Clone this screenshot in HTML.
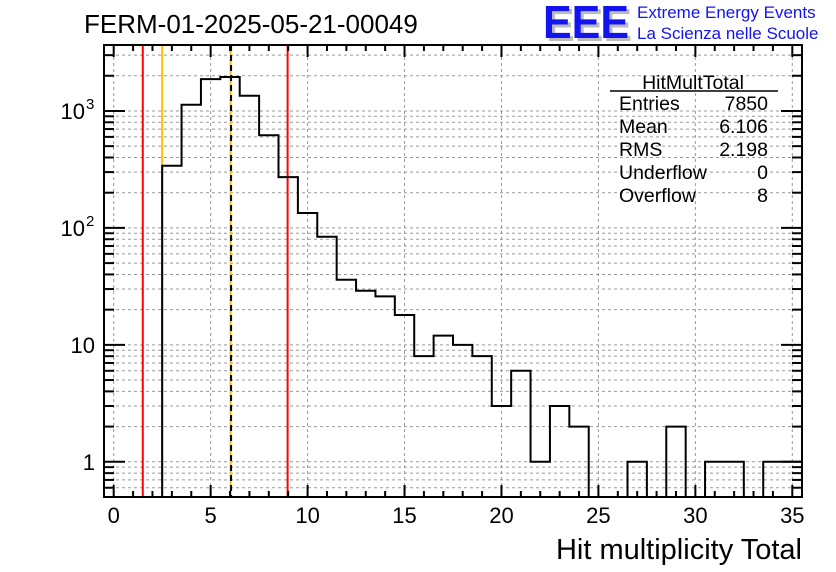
<!DOCTYPE html>
<html><head><meta charset="utf-8"><style>
html,body{margin:0;padding:0;background:#fff;}
svg{display:block;font-family:"Liberation Sans",Arial,sans-serif;}
</style></head><body>
<svg id="chart" width="836" height="572" viewBox="0 0 836 572" xmlns="http://www.w3.org/2000/svg">
<rect width="836" height="572" fill="#fff"/>
<text x="84" y="33" font-size="26" fill="#000">FERM-01-2025-05-21-00049</text>
<g>
<text x="546" y="41" font-size="46" font-weight="bold" fill="#bbb" textLength="86" lengthAdjust="spacingAndGlyphs">EEE</text>
<text x="543" y="38" font-size="46" font-weight="bold" fill="#1414f0" textLength="86" lengthAdjust="spacingAndGlyphs">EEE</text>
<text x="637" y="18" font-size="17" fill="#1414f0">Extreme Energy Events</text>
<text x="637" y="39" font-size="17" fill="#1414f0">La Scienza nelle Scuole</text>
</g>
<g id="grid"></g>
<g id="cuts"></g>
<g id="marks"></g>
<g id="axes"></g>
<g font-size="19.5" fill="#000">
<text x="693" y="89" text-anchor="middle">HitMultTotal</text>
<line x1="610" y1="91" x2="778" y2="91" stroke="#000" stroke-width="1.5"/>
<text x="619" y="110">Entries</text><text x="768" y="110" text-anchor="end">7850</text>
<text x="619" y="133">Mean</text><text x="768" y="133" text-anchor="end">6.106</text>
<text x="619" y="156">RMS</text><text x="768" y="156" text-anchor="end">2.198</text>
<text x="619" y="179">Underflow</text><text x="768" y="179" text-anchor="end">0</text>
<text x="619" y="202">Overflow</text><text x="768" y="202" text-anchor="end">8</text>
</g>
<text x="802" y="559" font-size="29" text-anchor="end">Hit multiplicity Total</text>
</svg>
<script>
const binCenters = [3,4,5,6,7,8,9,10,11,12,13,14,15,16,17,18,19,20,21,22,23,24,25,26,27,28,29,30,31,32,33,34,35];
const counts = [340,1130,1870,1950,1350,620,272,134,84,36,29,26,18,8,12,10,8,3,6,1,3,2,0,0,1,0,2,0,1,1,0,1,1];
const xTicks = [0,5,10,15,20,25,30,35];
const yDecades = [1,10,100,1000];
const yLabels = ["1","10","10","10"];
const yExps = ["","","2","3"];
const cutLinesRed = [1.5,8.97];
const cutLinesOrange = [2.5,6.03];
const meanValue = 6.106;

const L=104,R=802,T=45,B=497,XMIN=-0.5,XMAX=35.5,YMIN=0.5,YMAX=3664;
const NS='http://www.w3.org/2000/svg';
function sx(v){return L+(v-XMIN)/(XMAX-XMIN)*(R-L);}
function sy(v){return B-(Math.log10(v)-Math.log10(YMIN))/(Math.log10(YMAX)-Math.log10(YMIN))*(B-T);}
function mk(parent,tag,attrs){const e=document.createElementNS(NS,tag);for(const k in attrs)e.setAttribute(k,attrs[k]);document.getElementById(parent).appendChild(e);return e;}

// grid
for(const t of xTicks){const g=mk('grid','line',{x1:sx(t),x2:sx(t),y1:T,y2:B,stroke:'#999','stroke-dasharray':'3,3','stroke-width':1});

}
for(const d of yDecades){for(let m=1;m<=9;m++){const v=d*m;if(v<YMIN||v>YMAX)continue;const y=sy(v);
const g=mk('grid','line',{x1:L,x2:R,y1:y,y2:y,stroke:'#999','stroke-dasharray':'3,3','stroke-width':1});

}}
for(const v of [0.6,0.7,0.8,0.9]){const y=sy(v);const g=mk('grid','line',{x1:L,x2:R,y1:y,y2:y,stroke:'#999','stroke-dasharray':'3,3','stroke-width':1});

}

// cut lines (under histogram)
for(const c of cutLinesRed){const l=mk('cuts','line',{x1:sx(c),x2:sx(c),y1:T,y2:B,stroke:'#f00','stroke-width':2});

}
for(const c of cutLinesOrange){const l=mk('cuts','line',{x1:sx(c),x2:sx(c),y1:T,y2:B,stroke:'#ffc000','stroke-width':2});

}

// histogram
let d='';
for(let i=0;i<binCenters.length;i++){const x0=sx(binCenters[i]-0.5),x1=sx(binCenters[i]+0.5);
const y=counts[i]>0?Math.max(sy(counts[i]),T):B;
if(i===0)d+=`M${x0},${B}`;d+=`L${x0},${y}L${x1},${y}`;}
d+=`L${sx(binCenters[binCenters.length-1]+0.5)},${B}`;
const h=mk('marks','path',{d:d,fill:'none',stroke:'#000','stroke-width':2});



const ml=mk('marks','line',{x1:sx(meanValue)-1,x2:sx(meanValue)-1,y1:T,y2:B,stroke:'#000','stroke-width':2,'stroke-dasharray':'6,4'});



// axes frame
const fr=mk('axes','rect',{x:L,y:T,width:R-L,height:B-T,fill:'none',stroke:'#000','stroke-width':2});


for(let v=0;v<=35;v++){const x=sx(v);const len=v%5===0?12:6;
mk('axes','line',{x1:x,x2:x,y1:B,y2:B-len,stroke:'#000','stroke-width':2});
mk('axes','line',{x1:x,x2:x,y1:T,y2:T+len,stroke:'#000','stroke-width':2});}
for(const t of xTicks){const tx=mk('axes','text',{x:sx(t),y:523,'font-size':22,'text-anchor':'middle'});tx.textContent=String(t);

}
for(const dd of yDecades){for(let m=1;m<=9;m++){const v=dd*m;if(v>YMAX)continue;const y=sy(v);const len=m===1?21:10;
mk('axes','line',{x1:L,x2:L+len,y1:y,y2:y,stroke:'#000','stroke-width':2});
mk('axes','line',{x1:R,x2:R-len,y1:y,y2:y,stroke:'#000','stroke-width':2});}}
for(const v of [0.6,0.7,0.8,0.9]){const y=sy(v);mk('axes','line',{x1:L,x2:L+10,y1:y,y2:y,stroke:'#000','stroke-width':2});mk('axes','line',{x1:R,x2:R-10,y1:y,y2:y,stroke:'#000','stroke-width':2});}
for(let i=0;i<yDecades.length;i++){const y=sy(yDecades[i])+8;
const tx=mk('axes','text',{x:yExps[i]?85:95,y:y,'font-size':22,'text-anchor':'end'});tx.textContent=yLabels[i];


if(yExps[i]){const e=mk('axes','text',{x:86,y:y-10,'font-size':15});e.textContent=yExps[i];

}}
</script>
</body></html>
